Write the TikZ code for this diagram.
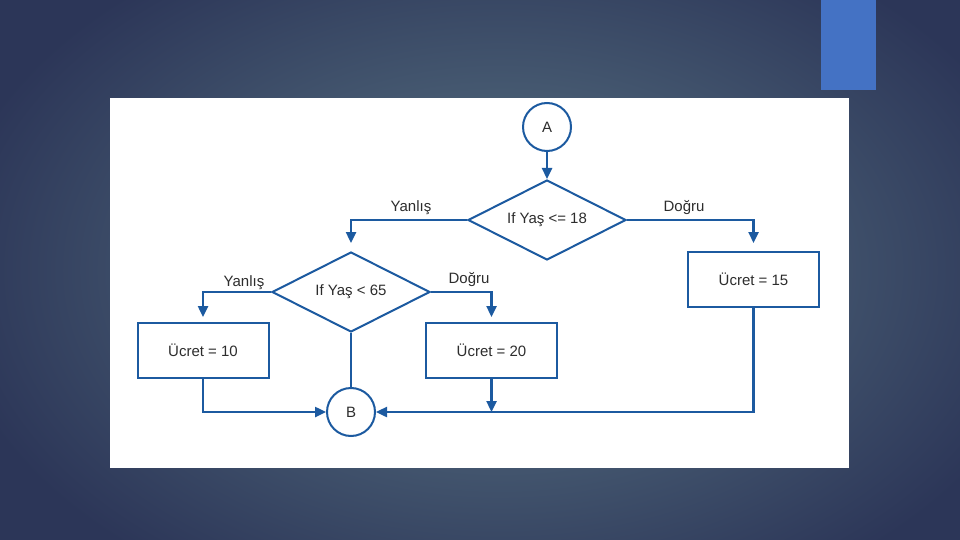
\documentclass[tikz,border=0pt]{standalone}
\usepackage{fontspec}
\setmainfont{Liberation Sans}
\usetikzlibrary{arrows.meta,shapes.geometric,calc}
\definecolor{bgout}{RGB}{44,54,88}
\definecolor{bgin}{RGB}{92,120,134}
\definecolor{accent}{RGB}{68,114,196}
\definecolor{flow}{RGB}{28,90,160}
\definecolor{txt}{RGB}{45,45,45}
\begin{document}
\begin{tikzpicture}[x=1pt,y=-1pt,
  every node/.style={font=\fontsize{15}{17}\selectfont, text=txt},
  flowline/.style={draw=flow, line width=2.4pt},
  arr/.style={flowline, -{Triangle[length=11pt,width=10pt]}},
  conn/.style={circle, draw=flow, line width=2pt, minimum size=48pt, inner sep=0pt, fill=white},
  decis/.style={diamond, shape aspect=2, draw=flow, line width=2pt, minimum width=158pt, minimum height=80pt, inner sep=0pt},
  proc/.style={rectangle, draw=flow, line width=2pt, minimum width=131pt, minimum height=55pt, inner sep=0pt},
  lbl/.style={inner sep=1pt}]
\useasboundingbox (0,0) rectangle (960,540);
\fill[bgout] (0,0) rectangle (960,540);
\shade[inner color=bgin, outer color=bgout] (-60,-100) rectangle (1060,640);
\fill[accent] (821,0) rectangle (876,90);
\fill[white] (110,98) rectangle (849,468);

\node[conn] (A) at (547,127) {A};
\node[decis] (d1) at (547,220) {If Yaş <= 18};
\node[decis] (d2) at (351,292) {If Yaş < 65};
\node[proc] (b10) at (203,350.5) {Ücret = 10};
\node[proc] (b20) at (491.5,350.5) {Ücret = 20};
\node[proc] (b15) at (753.5,279.5) {Ücret = 15};
\node[conn] (B) at (351,412) {B};

\draw[arr] (A) -- (d1.north);
\draw[arr, shorten >=8pt] (d1.west) -| (d2.north);
\draw[arr, shorten >=5pt] (d2.west) -| (b10.north);
\draw[arr, shorten >=5pt] (d2.east) -| (b20.north);
\draw[arr, shorten >=8pt] (d1.east) -| (b15.north);
\draw[flowline] (d2.south) -- (B.north);
\draw[arr] (b10.south) |- (B.west);
\draw[arr] (b15.south) |- (B.east);
\draw[arr] (b20.south) -- (b20.south |- B.east);

\node[lbl] (l1) at (411,208) {Yanlış};
\node[lbl] (l2) at (244,283) {Yanlış};
\node[lbl] (l3) at (469,280) {Doğru};
\node[lbl] (l4) at (684,208) {Doğru};
\end{tikzpicture}
\end{document}
